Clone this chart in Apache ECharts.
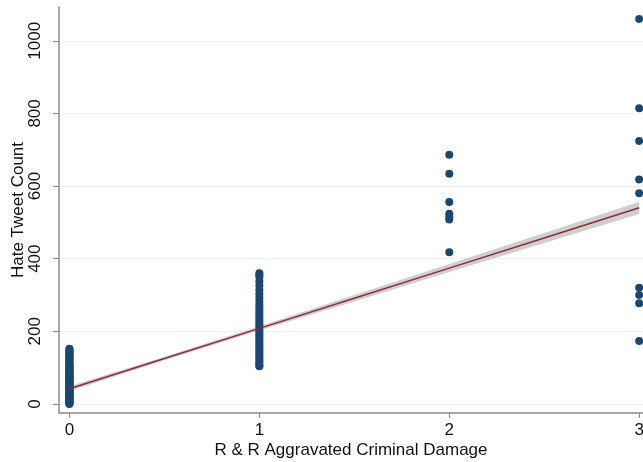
<!DOCTYPE html>
<html>
<head>
<meta charset="utf-8">
<title>Hate Tweet Count vs R &amp; R Aggravated Criminal Damage</title>
<script src="https://cdn.jsdelivr.net/npm/echarts@6/dist/echarts.min.js"></script>
<style>
  html, body { margin: 0; padding: 0; background: #ffffff; }
  #chart { width: 643px; height: 462px; }
</style>
</head>
<body>
<div id="chart"></div>
<script>
// Observed hate tweet counts grouped by recorded aggravated criminal damage
const countsAt0 = [0, 2, 3, 5, 6, 8, 9, 11, 12, 14, 15, 17, 19, 20, 22, 24, 25, 27, 29, 31,
  33, 35, 36, 38, 40, 42, 44, 46, 48, 50, 52, 54, 56, 58, 60, 62, 64, 66, 68, 70,
  72, 74, 76, 78, 80, 82, 85, 87, 89, 91, 94, 96, 98, 101, 103, 106, 108, 111, 114, 117,
  120, 123, 126, 129, 132, 135, 138, 141, 144, 147, 150, 152];
const countsAt1 = [360, 355, 350, 338, 326, 314, 302, 292, 282, 272, 263, 255, 248, 240, 233,
  226, 220, 214, 208, 201, 195, 189, 183, 177, 171, 165, 159, 153, 147, 141, 135, 129,
  123, 117, 111, 106, 104];
const countsAt2 = [686, 634, 556, 524, 515, 508, 418];
const countsAt3 = [1060, 814, 724, 618, 580, 320, 300, 277, 173];

// Linear fit with 95% confidence band
const fitX = [0, 0.5, 1, 1.5, 2, 2.5, 3];
const fitY = [42, 125, 208, 291, 374, 457, 540];
const fitLo = [35, 120, 202, 282, 363, 443, 523];
const fitHi = [49, 130, 214, 300, 385, 471, 557];

// Axis ticks
const xTicks = [0, 1, 2, 3];
const yTicks = [0, 200, 400, 600, 800, 1000];

const xTitle = 'R & R Aggravated Criminal Damage';
const yTitle = 'Hate Tweet Count';

const groups = [[0, countsAt0], [1, countsAt1], [2, countsAt2], [3, countsAt3]];
const points = [];
groups.forEach(([x, vals]) => vals.forEach(v => points.push([x, v])));

const font = '"Liberation Sans", Arial, Helvetica, sans-serif';
const axisGrey = '#8a8a8a';

// Closed outline of the confidence band: upper edge left-to-right, lower edge back
const bandOutline = fitX.map((x, i) => [x, fitHi[i]])
  .concat(fitX.map((x, i) => [x, fitLo[i]]).reverse());

const chart = echarts.init(document.getElementById('chart'), null, { renderer: 'canvas' });
chart.setOption({
  animation: false,
  backgroundColor: '#ffffff',
  grid: { left: 59, right: 0, top: 7, bottom: 49, containLabel: false, outerBoundsMode: 'none' },
  xAxis: {
    type: 'value',
    min: -0.055,
    max: 3.02,
    name: xTitle,
    nameLocation: 'middle',
    nameGap: 29,
    nameMoveOverlap: false,
    nameTextStyle: { fontFamily: font, fontSize: 17, color: '#111' },
    axisLine: { show: true, onZero: false, lineStyle: { color: axisGrey, width: 1.5 } },
    axisTick: { show: true, length: 5, customValues: xTicks, lineStyle: { color: axisGrey } },
    axisLabel: { customValues: xTicks, fontFamily: font, fontSize: 17, color: '#111', margin: 9,
      formatter: v => String(v) },
    splitLine: { show: false }
  },
  yAxis: {
    type: 'value',
    min: -25,
    max: 1093,
    name: yTitle,
    nameLocation: 'middle',
    nameGap: 32,
    nameMoveOverlap: false,
    nameTextStyle: { fontFamily: font, fontSize: 17, color: '#111' },
    axisLine: { show: true, onZero: false, lineStyle: { color: axisGrey, width: 1.5 } },
    axisTick: { show: true, length: 6, customValues: yTicks, lineStyle: { color: axisGrey } },
    axisLabel: { customValues: yTicks, rotate: 90, fontFamily: font, fontSize: 17, color: '#111', margin: 15,
      formatter: v => String(v) },
    splitLine: { show: true, lineStyle: { color: '#eaf2f3', width: 1 } }
  },
  series: [
    {
      type: 'custom',
      silent: true,
      z: 2,
      data: [0],
      renderItem: (params, api) => ({
        type: 'polygon',
        shape: { points: bandOutline.map(p => api.coord(p)) },
        style: { fill: '#cfcfcf' }
      })
    },
    {
      type: 'line',
      data: fitX.map((x, i) => [x, fitY[i]]),
      symbol: 'none',
      lineStyle: { color: '#8f2d36', width: 1.5 },
      silent: true,
      z: 4
    },
    {
      type: 'scatter',
      data: points,
      symbol: 'circle',
      symbolSize: 8,
      itemStyle: { color: '#1a476f', opacity: 1 },
      clip: false,
      z: 3
    }
  ]
});
</script>
</body>
</html>
